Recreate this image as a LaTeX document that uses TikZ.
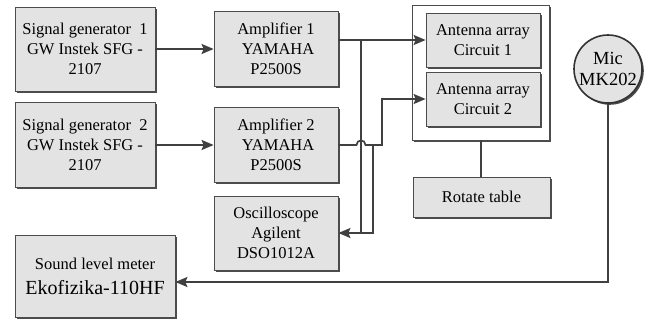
\documentclass[tikz,border=0pt]{standalone}
\usepackage{fontspec}
\setmainfont{Liberation Serif}
\usetikzlibrary{arrows.meta,shadows}
\begin{document}
\begin{tikzpicture}[x=1pt,y=-1pt,
 shad/.style={drop shadow={shadow xshift=1.8pt, shadow yshift=-1.8pt, fill=black!70, opacity=1}},
 box/.style={draw=black!70, line width=0.8pt, fill=black!11, align=center, inner sep=0pt,
   font=\fontsize{16.5}{20}\selectfont, shad},
 conn/.style={draw=black!75, line width=1.7pt},
 arr/.style={conn, -{Stealth[length=12pt,width=10pt,inset=2pt]}}]
\useasboundingbox[fill=white] (0,0) rectangle (645,322);

\node[box, minimum width=140pt, minimum height=84pt] (sg1) at (85,49) {Signal generator\ \ 1\\GW Instek SFG -\\2107};
\node[box, minimum width=140pt, minimum height=85pt] (sg2) at (85,145) {Signal generator\ \ 2\\GW Instek SFG -\\2107};
\node[box, minimum width=124pt, minimum height=75pt] (amp1) at (276,49) {Amplifier 1\\\ YAMAHA\\P2500S};
\node[box, minimum width=124pt, minimum height=75pt] (amp2) at (276,145) {Amplifier 2\\\ YAMAHA\\P2500S};
\node[box, minimum width=124pt, minimum height=74pt] (osc) at (276,233) {Oscilloscope\\Agilent\\DSO1012A};
\node[box, minimum width=160pt, minimum height=82pt, font=\fontsize{16.5}{25}\selectfont] (slm) at (95,276) {Sound level meter\\{\fontsize{20}{25}\selectfont Ekofizika-110HF}};

\node[draw=black!70, line width=0.8pt, fill=white, shad, minimum width=137pt, minimum height=135pt, inner sep=0pt] (outer) at (481,72.5) {};
\node[box, minimum width=114pt, minimum height=54pt] (ant1) at (483,40) {Antenna array\\Circuit 1};
\node[box, minimum width=114pt, minimum height=54pt] (ant2) at (483,99) {Antenna array\\Circuit 2};
\node[box, minimum width=137pt, minimum height=40pt] (rot) at (481.5,197) {Rotate table};
\node[box, circle, draw=black!80, line width=1.6pt, minimum size=68pt, font=\fontsize{18.5}{21}\selectfont] (mic) at (608,69) {Mic\\MK202};

\coordinate (j1) at (361,0);
\coordinate (j2) at (373,0);
\coordinate (j3) at (382,0);
\coordinate (mc) at (608,282);

\draw[arr] (sg1.east) -- (amp1.west);
\draw[arr] (sg2.east) -- (amp2.west);
\draw[arr] (amp1.east |- ant1.west) -- (ant1.west);
\draw[conn] (j1 |- ant1.west) -- (j1 |- osc.east);
\draw[arr] (amp2.east) -- ([xshift=-4.5pt]j1 |- amp2.east) .. controls +(0,-6) and +(0,-6) .. ([xshift=4.5pt]j1 |- amp2.east) -- (j3 |- amp2.east) -- (j3 |- ant2.west) -- (ant2.west);
\draw[arr] (j2 |- amp2.east) -- (j2 |- osc.east) -- (osc.east);
\draw[conn] (outer.south) -- (outer.south |- rot.north);
\draw[arr] (mic.south) -- (mc) -- (slm.east |- mc);
\end{tikzpicture}
\end{document}
